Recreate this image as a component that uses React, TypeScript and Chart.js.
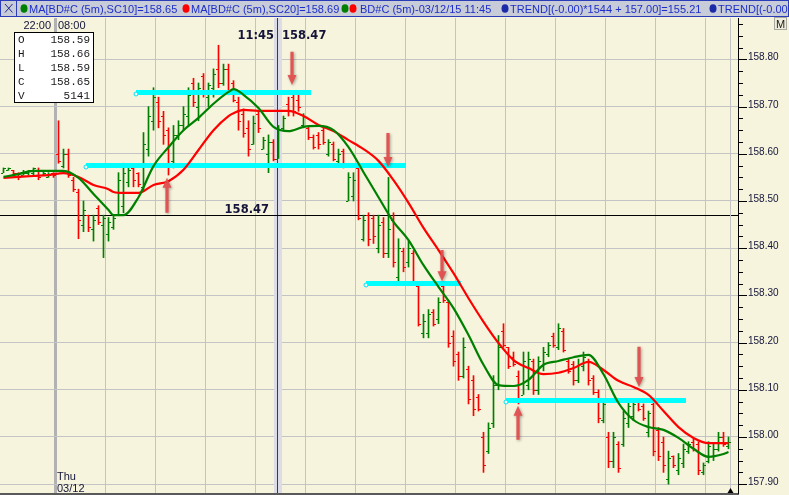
import React, { useEffect, useRef } from "react";
import { Chart, registerables } from "chart.js";

Chart.register(...registerables);

// ---------- data (5-minute bars, BD#C) ----------
const opens = [
  158.56, 158.565, 158.565, 158.56, 158.555, 158.56, 158.56, 158.565, 158.555, 158.55,
  158.56, 158.6, 158.575, 158.6, 158.545, 158.52, 158.45, 158.47, 158.44, 158.485,
  158.45, 158.43, 158.445, 158.47, 158.49, 158.54, 158.57, 158.56, 158.53, 158.61,
  158.67, 158.71, 158.68, 158.65, 158.585, 158.64, 158.66, 158.68, 158.75, 158.7,
  158.765, 158.72, 158.74, 158.78, 158.75, 158.78, 158.75, 158.71, 158.685, 158.655,
  158.62, 158.685, 158.61, 158.6, 158.625, 158.59, 158.655, 158.705, 158.72, 158.715,
  158.66, 158.655, 158.635, 158.64, 158.65, 158.6, 158.62, 158.585, 158.605, 158.5,
  158.51, 158.57, 158.42, 158.47, 158.465, 158.4, 158.455, 158.39, 158.46, 158.34,
  158.395, 158.37, 158.39, 158.32, 158.22, 158.22, 158.265, 158.25, 158.32, 158.285,
  158.215, 158.175, 158.13, 158.145, 158.12, 158.085, 158.0, 157.97, 158.03, 158.11,
  158.225, 158.19, 158.17, 158.13, 158.09, 158.11, 158.16, 158.1, 158.15, 158.175,
  158.215, 158.19, 158.225, 158.16, 158.155, 158.12, 158.15, 158.16, 158.125, 158.095,
  158.035, 158.0, 157.95, 157.985, 157.985, 158.03, 158.045, 158.075, 158.065, 158.01,
  158.07, 158.015, 157.99, 157.91, 157.96, 157.93, 157.945, 157.97, 157.99, 157.985,
  157.925, 157.95, 157.96, 157.975, 158.0, 157.98,
];
const highs = [
  158.57, 158.57, 158.565, 158.56, 158.565, 158.565, 158.57, 158.57, 158.565, 158.56,
  158.56, 158.67, 158.61, 158.61, 158.55, 158.525, 158.5, 158.47, 158.47, 158.49,
  158.47, 158.465, 158.47, 158.56, 158.58, 158.575, 158.57, 158.56, 158.645, 158.7,
  158.74, 158.72, 158.69, 158.655, 158.66, 158.67, 158.7, 158.74, 158.76, 158.75,
  158.77, 158.75, 158.78, 158.83, 158.79, 158.79, 158.755, 158.72, 158.695, 158.67,
  158.68, 158.69, 158.635, 158.64, 158.63, 158.66, 158.68, 158.72, 158.725, 158.73,
  158.685, 158.66, 158.64, 158.645, 158.655, 158.63, 158.625, 158.61, 158.61, 158.56,
  158.56, 158.58, 158.47, 158.475, 158.47, 158.47, 158.465, 158.55, 158.475, 158.42,
  158.4, 158.415, 158.395, 158.325, 158.26, 158.27, 158.27, 158.295, 158.33, 158.29,
  158.225, 158.18, 158.21, 158.15, 158.13, 158.09, 158.01, 158.03, 158.13, 158.215,
  158.24, 158.19, 158.18, 158.14, 158.18, 158.18, 158.165, 158.17, 158.19, 158.2,
  158.22, 158.24, 158.23, 158.165, 158.16, 158.165, 158.18, 158.165, 158.13, 158.1,
  158.08, 158.01, 158.01, 157.99, 158.055, 158.075, 158.08, 158.08, 158.07, 158.055,
  158.08, 158.02, 158.0, 157.97, 157.96, 157.965, 157.985, 157.99, 157.995, 157.99,
  157.945, 157.99, 157.985, 158.01, 158.01, 158.0,
];
const lows = [
  158.56, 158.565, 158.555, 158.545, 158.555, 158.555, 158.555, 158.545, 158.555, 158.55,
  158.55, 158.58, 158.57, 158.55, 158.52, 158.42, 158.435, 158.435, 158.415, 158.45,
  158.38, 158.415, 158.44, 158.47, 158.475, 158.53, 158.53, 158.53, 158.52, 158.595,
  158.65, 158.655, 158.62, 158.555, 158.57, 158.63, 158.65, 158.66, 158.7, 158.67,
  158.72, 158.7, 158.72, 158.74, 158.745, 158.725, 158.71, 158.65, 158.635, 158.595,
  158.62, 158.645, 158.61, 158.56, 158.585, 158.59, 158.65, 158.68, 158.68, 158.69,
  158.655, 158.63, 158.61, 158.61, 158.62, 158.595, 158.585, 158.58, 158.57, 158.5,
  158.5, 158.46, 158.415, 158.405, 158.41, 158.39, 158.38, 158.38, 158.36, 158.325,
  158.35, 158.36, 158.325, 158.235, 158.21, 158.21, 158.235, 158.24, 158.285, 158.19,
  158.15, 158.12, 158.125, 158.07, 158.045, 158.055, 157.925, 157.965, 158.02, 158.1,
  158.19, 158.145, 158.15, 158.07, 158.09, 158.1, 158.09, 158.09, 158.14, 158.17,
  158.19, 158.185, 158.18, 158.135, 158.11, 158.115, 158.14, 158.11, 158.09, 158.03,
  158.03, 157.935, 157.935, 157.925, 157.98, 158.02, 158.035, 158.055, 158.035, 158.0,
  157.96, 157.95, 157.925, 157.9, 157.935, 157.92, 157.935, 157.965, 157.97, 157.92,
  157.92, 157.945, 157.95, 157.97, 157.98, 157.975,
];
const closes = [
  158.57, 158.57, 158.56, 158.55, 158.56, 158.565, 158.57, 158.55, 158.56, 158.555,
  158.555, 158.585, 158.6, 158.555, 158.525, 158.46, 158.48, 158.445, 158.46, 158.455,
  158.465, 158.455, 158.465, 158.545, 158.56, 158.565, 158.545, 158.535, 158.62, 158.68,
  158.72, 158.67, 158.64, 158.58, 158.64, 158.66, 158.685, 158.725, 158.71, 158.74,
  158.73, 158.745, 158.77, 158.75, 158.78, 158.735, 158.715, 158.67, 158.645, 158.61,
  158.665, 158.655, 158.63, 158.625, 158.59, 158.65, 158.675, 158.69, 158.69, 158.7,
  158.68, 158.635, 158.615, 158.62, 158.625, 158.625, 158.59, 158.6, 158.575, 158.55,
  158.545, 158.465, 158.46, 158.42, 158.425, 158.45, 158.39, 158.44, 158.37, 158.4,
  158.36, 158.4, 158.33, 158.24, 158.245, 158.26, 158.24, 158.285, 158.29, 158.2,
  158.16, 158.13, 158.19, 158.08, 158.06, 158.06, 157.94, 158.02, 158.11, 158.19,
  158.195, 158.15, 158.155, 158.08, 158.16, 158.165, 158.1, 158.16, 158.18, 158.195,
  158.195, 158.23, 158.185, 158.14, 158.12, 158.155, 158.17, 158.12, 158.095, 158.04,
  158.07, 157.95, 158.0, 157.935, 158.04, 158.065, 158.07, 158.06, 158.04, 158.05,
  157.97, 157.96, 157.94, 157.955, 157.94, 157.955, 157.975, 157.985, 157.975, 157.93,
  157.94, 157.98, 157.975, 158.0, 157.985, 157.99,
];

// moving averages at these bar indices
const maIdx = [
  0, 3, 6, 9, 12, 15, 18, 21, 22, 24, 27, 30, 33, 36, 39, 42, 45, 46, 48, 51, 54, 57, 60,
  63, 66, 69, 72, 75, 78, 81, 84, 87, 90, 93, 96, 99, 102, 105, 108, 111, 114, 117, 120,
  123, 126, 129, 132, 135, 138, 141, 144, 145,
];
const ma10 = [
  158.551, 158.557, 158.564, 158.564, 158.564, 158.549, 158.515, 158.481, 158.47, 158.47,
  158.508, 158.574, 158.614, 158.65, 158.676, 158.706, 158.731, 158.737, 158.725, 158.697,
  158.657, 158.648, 158.657, 158.659, 158.65, 158.614, 158.561, 158.508, 158.456, 158.417,
  158.364, 158.318, 158.273, 158.216, 158.153, 158.11, 158.108, 158.121, 158.153, 158.161,
  158.169, 158.174, 158.133, 158.072, 158.036, 158.021, 158.015, 157.998, 157.975, 157.958,
  157.964, 157.968,
];
const ma20 = [
  158.549, 158.551, 158.553, 158.555, 158.559, 158.551, 158.534, 158.525, 158.519, 158.517,
  158.517, 158.534, 158.542, 158.566, 158.608, 158.65, 158.68, 158.686, 158.693, 158.691,
  158.691, 158.691, 158.68, 158.661, 158.648, 158.629, 158.61, 158.585, 158.544, 158.496,
  158.443, 158.396, 158.347, 158.294, 158.244, 158.199, 158.163, 158.146, 158.133, 158.136,
  158.146, 158.159, 158.142, 158.119, 158.106, 158.089, 158.055, 158.021, 157.998, 157.987,
  157.987, 157.987,
];

// axis ticks
const yGridValues = [157.9, 158.0, 158.1, 158.2, 158.3, 158.4, 158.5, 158.6, 158.7, 158.8];
const xGridValues = [10.3, 20.3, 30.3, 40.3, 50.3, 60.3, 70.3, 80.3, 90.3, 100.3, 110.3, 120.3, 130.3, 140.3];
const yMin = 157.8792;
const yMax = 158.8877;
const xMin = -0.7;
const xMax = 146.9;

// drawn annotations (bar index / price)
const levelStart = [26.5, 16.5, 72.5, 100.5];
const levelEnd = [61.5, 80.5, 91.5, 136.5];
const levelPrice = [158.731, 158.576, 158.327, 158.078];
const arrowIdx = [32.7, 57.7, 76.9, 87.7, 102.9, 127.1];
const arrowBase = [158.475, 158.816, 158.644, 158.396, 157.994, 158.191];
const arrowTip = [158.549, 158.746, 158.572, 158.33, 158.066, 158.106];

// crosshair / info
const crosshairIdx = 55;
const crosshairPrice = 158.47;
const crosshairTime = "11:45";
const crosshairVolume = 5141;
const sessionLabels = ["22:00", "08:00"];
const dayLabels = ["Thu", "03/12"];
const legendTexts = [
  "MA[BD#C (5m),SC10]=158.65",
  "MA[BD#C (5m),SC20]=158.69",
  "BD#C (5m)-03/12/15 11:45",
  "TREND[(-0.00)*1544 + 157.00]=155.21",
  "TREND[(-0.00)",
];

// ---------- styling ----------
const BG = "#f6f4dc";
const GREEN = "#008000";
const RED = "#ff0000";
const GRID = "#c4c4c4";
const TXT = "#14143a";
const LEG_BLUE = "#1c2ec8";

function drawArrow(ctx: CanvasRenderingContext2D, x: number, yBase: number, yTip: number) {
  const dir = yTip > yBase ? 1 : -1;
  const neck = yTip - dir * 10;
  ctx.beginPath();
  ctx.moveTo(x - 1.6, yBase);
  ctx.lineTo(x + 1.6, yBase);
  ctx.lineTo(x + 1.6, neck);
  ctx.lineTo(x + 4.5, neck);
  ctx.lineTo(x, yTip);
  ctx.lineTo(x - 4.5, neck);
  ctx.lineTo(x - 1.6, neck);
  ctx.closePath();
  ctx.fill();
}

const overlay = {
  id: "overlay",
  beforeDraw(chart: any) {
    const { ctx, width, height } = chart;
    ctx.save();
    ctx.fillStyle = BG;
    ctx.fillRect(0, 0, width, height);
    ctx.restore();
  },
  beforeDatasetsDraw(chart: any) {
    const { ctx, chartArea: a } = chart;
    const xs = chart.scales.x;
    const ys = chart.scales.y;
    ctx.save();
    const cx = Math.floor(xs.getPixelForValue(crosshairIdx));
    ctx.fillStyle = "#dcdce6";
    ctx.fillRect(cx - 4, a.top, 8, a.bottom - a.top);
    ctx.fillStyle = "#3a3a4e";
    ctx.fillRect(cx - 1, a.top, 1, a.bottom - a.top);
    const hy = Math.round(ys.getPixelForValue(crosshairPrice));
    ctx.fillStyle = "#000";
    ctx.fillRect(a.left, hy, a.right - a.left, 1);
    const lx = Math.floor(xs.getPixelForValue(opens.length - 1)) + 2;
    ctx.fillStyle = GRID;
    ctx.fillRect(lx, a.top, 1, a.bottom - a.top);
    ctx.restore();
  },
  afterDatasetDraw(chart: any, args: any) {
    if (args.meta.type !== "bar") return;
    const { ctx } = chart;
    const xs = chart.scales.x;
    const ys = chart.scales.y;
    ctx.save();
    for (let i = 0; i < opens.length; i++) {
      const col = Math.floor(xs.getPixelForValue(i));
      ctx.fillStyle = closes[i] >= opens[i] ? GREEN : RED;
      ctx.fillRect(col - 2, Math.round(ys.getPixelForValue(opens[i])), 2, 1);
      ctx.fillRect(col + 1, Math.round(ys.getPixelForValue(closes[i])), 2, 1);
    }
    // support / resistance levels
    for (let k = 0; k < levelPrice.length; k++) {
      const x0 = xs.getPixelForValue(levelStart[k]);
      const x1 = xs.getPixelForValue(levelEnd[k]);
      const y = Math.round(ys.getPixelForValue(levelPrice[k]));
      ctx.fillStyle = "#00ffff";
      ctx.fillRect(x0, y - 2, x1 - x0, 5);
      ctx.beginPath();
      ctx.arc(x0, y + 2, 2, 0, Math.PI * 2);
      ctx.fillStyle = "#ffffff";
      ctx.fill();
      ctx.strokeStyle = "#00e0f0";
      ctx.lineWidth = 1;
      ctx.stroke();
    }
    ctx.restore();
  },
  afterDatasetsDraw(chart: any) {
    const { ctx, chartArea: a, width } = chart;
    const xs = chart.scales.x;
    const ys = chart.scales.y;
    ctx.save();

    // arrows
    ctx.shadowColor = "rgba(0,0,0,0.35)";
    ctx.shadowBlur = 3;
    ctx.shadowOffsetX = 1;
    ctx.shadowOffsetY = 1;
    ctx.fillStyle = "rgba(226,78,78,0.95)";
    for (let k = 0; k < arrowIdx.length; k++) {
      drawArrow(ctx, xs.getPixelForValue(arrowIdx[k]), ys.getPixelForValue(arrowBase[k]), ys.getPixelForValue(arrowTip[k]));
    }
    ctx.shadowColor = "transparent";
    ctx.shadowBlur = 0;
    ctx.shadowOffsetX = 0;
    ctx.shadowOffsetY = 0;

    // bottom border and last-bar marker
    ctx.fillStyle = "#5a5a5a";
    ctx.fillRect(0, a.bottom - 1, a.right + 1, 2);
    const lc = Math.floor(xs.getPixelForValue(opens.length - 1)) + 2.5;
    ctx.fillStyle = "#000";
    ctx.beginPath();
    ctx.moveTo(lc - 3, a.bottom - 1);
    ctx.lineTo(lc + 3, a.bottom - 1);
    ctx.lineTo(lc, a.bottom - 6);
    ctx.closePath();
    ctx.fill();

    // crosshair labels
    const cx = Math.floor(xs.getPixelForValue(crosshairIdx));
    const hy = Math.round(ys.getPixelForValue(crosshairPrice));
    ctx.fillStyle = TXT;
    ctx.font = 'bold 11.5px "DejaVu Sans"';
    ctx.textBaseline = "alphabetic";
    ctx.textAlign = "right";
    ctx.fillText(crosshairTime, cx - 4, 39);
    ctx.textAlign = "left";
    ctx.fillText(crosshairPrice.toFixed(2), cx + 4, 39);
    ctx.textAlign = "right";
    ctx.fillText(crosshairPrice.toFixed(2), cx - 9, hy - 2);

    // session / day labels
    const sx = Math.round(xs.getPixelForValue(xGridValues[0]));
    ctx.font = '11px "Liberation Sans"';
    ctx.fillStyle = TXT;
    ctx.textAlign = "right";
    ctx.fillText(sessionLabels[0], sx - 4, 29);
    ctx.textAlign = "left";
    ctx.fillText(sessionLabels[1], sx + 3, 29);
    ctx.fillText(dayLabels[0], sx + 2, 480);
    ctx.fillText(dayLabels[1], sx + 2, 492);

    // OHLC box
    ctx.fillStyle = "#ffffff";
    ctx.fillRect(14, 32, 79, 70);
    ctx.strokeStyle = "#000";
    ctx.lineWidth = 1;
    ctx.strokeRect(14.5, 32.5, 79, 70);
    const rows: [string, string][] = [
      ["O", opens[crosshairIdx].toFixed(2)],
      ["H", highs[crosshairIdx].toFixed(2)],
      ["L", lows[crosshairIdx].toFixed(2)],
      ["C", closes[crosshairIdx].toFixed(2)],
      ["V", String(crosshairVolume)],
    ];
    ctx.font = '11px "Liberation Mono"';
    ctx.fillStyle = "#1a1a1a";
    rows.forEach((r, k) => {
      const by = 43 + k * 14;
      ctx.textAlign = "left";
      ctx.fillText(r[0], 18, by);
      ctx.textAlign = "right";
      ctx.fillText(r[1], 90, by);
    });

    // right price axis
    const ax = a.right;
    ctx.fillStyle = "#000";
    ctx.fillRect(ax, a.top, 1, a.bottom - a.top);
    for (let k = 0; k <= 41; k++) {
      const v = 157.875 + k * 0.025;
      const py = Math.round(ys.getPixelForValue(v));
      if (py < a.top || py > a.bottom) continue;
      const major = (k - 1) % 4 === 0;
      ctx.fillRect(ax, py, major ? 9 : 5, 1);
    }
    ctx.font = '10px "Liberation Sans"';
    ctx.fillStyle = TXT;
    ctx.textAlign = "left";
    yGridValues.forEach((v) => {
      const py = Math.round(ys.getPixelForValue(v));
      ctx.fillText(v.toFixed(2), ax + 10, py + 1);
    });

    // "M" button
    ctx.fillStyle = "#efedda";
    ctx.fillRect(774, 17, 13, 13);
    ctx.strokeStyle = "#a8a8a0";
    ctx.strokeRect(774.5, 17.5, 12, 12);
    ctx.fillStyle = "#202020";
    ctx.font = '11px "Liberation Sans"';
    ctx.textAlign = "center";
    ctx.fillText("M", 780.5, 28);

    // legend bar
    ctx.fillStyle = "#c8ccd8";
    ctx.fillRect(0, 0, width, 17);
    ctx.strokeStyle = "#2a3cb8";
    ctx.strokeRect(0.5, 0.5, width - 1, 16);
    ctx.beginPath();
    ctx.moveTo(16.5, 0.5);
    ctx.lineTo(16.5, 16.5);
    ctx.stroke();
    ctx.strokeStyle = "#1a2a90";
    ctx.beginPath();
    ctx.moveTo(5, 4);
    ctx.lineTo(12.5, 12.5);
    ctx.moveTo(12.5, 4);
    ctx.lineTo(5, 12.5);
    ctx.stroke();
    const dot = (x: number, c: string) => {
      ctx.beginPath();
      ctx.ellipse(x, 8.5, 3.5, 4.3, 0, 0, Math.PI * 2);
      ctx.fillStyle = c;
      ctx.fill();
    };
    dot(24, GREEN);
    dot(186, RED);
    dot(345, GREEN);
    dot(353, RED);
    dot(505, "#1a2aa8");
    dot(713, "#1a2aa8");
    ctx.font = '11px "Liberation Sans"';
    ctx.fillStyle = LEG_BLUE;
    ctx.textAlign = "left";
    const tx = [29, 191, 360, 510, 718];
    legendTexts.forEach((t, k) => ctx.fillText(t, tx[k], 13));

    ctx.restore();
  },
};

export default function App() {
  const ref = useRef<HTMLCanvasElement | null>(null);
  useEffect(() => {
    document.body.style.margin = "0";
    const barData = opens.map((_, i) => ({ x: i, y: [lows[i], highs[i]] }));
    const barColors = opens.map((o, i) => (closes[i] >= o ? GREEN : RED));
    const chart = new Chart(ref.current as HTMLCanvasElement, {
      type: "bar",
      data: {
        datasets: [
          {
            type: "line",
            label: "MA10",
            data: maIdx.map((x, k) => ({ x, y: ma10[k] })),
            borderColor: GREEN,
            borderWidth: 2.2,
            pointRadius: 0,
            cubicInterpolationMode: "monotone",
            order: 0,
          } as any,
          {
            type: "line",
            label: "MA20",
            data: maIdx.map((x, k) => ({ x, y: ma20[k] })),
            borderColor: RED,
            borderWidth: 2.2,
            pointRadius: 0,
            cubicInterpolationMode: "monotone",
            order: 1,
          } as any,
          {
            type: "bar",
            label: "BD#C",
            data: barData as any,
            backgroundColor: barColors,
            borderWidth: 0,
            barThickness: 1,
            order: 2,
          } as any,
        ],
      },
      options: {
        animation: false,
        responsive: false,
        devicePixelRatio: 1,
        events: [],
        layout: { padding: { top: 18, bottom: 1, left: 0, right: 0 } },
        plugins: { legend: { display: false }, tooltip: { enabled: false } },
        scales: {
          x: {
            type: "linear",
            min: xMin,
            max: xMax,
            offset: false,
            border: { display: false },
            ticks: { display: false },
            grid: {
              offset: false,
              drawTicks: false,
              color: (c: any) => (c.index === 0 ? "#b2b2b2" : GRID),
              lineWidth: (c: any) => (c.index === 0 ? 3 : 1),
            },
            afterBuildTicks: (s: any) => {
              s.ticks = xGridValues.map((v) => ({ value: v }));
            },
            afterFit: (s: any) => {
              s.height = 0;
            },
          },
          y: {
            type: "linear",
            position: "right",
            min: yMin,
            max: yMax,
            border: { display: false },
            ticks: { display: false },
            grid: { drawTicks: false, color: GRID, lineWidth: 1 },
            afterBuildTicks: (s: any) => {
              s.ticks = yGridValues.map((v) => ({ value: v }));
            },
            afterFit: (s: any) => {
              s.width = 51;
            },
          },
        },
      } as any,
      plugins: [overlay],
    });
    return () => chart.destroy();
  }, []);
  return (
    <div style={{ position: "fixed", left: 0, top: 0, width: 789, height: 495 }}>
      <canvas ref={ref} width={789} height={495} style={{ display: "block", width: 789, height: 495 }} />
    </div>
  );
}
